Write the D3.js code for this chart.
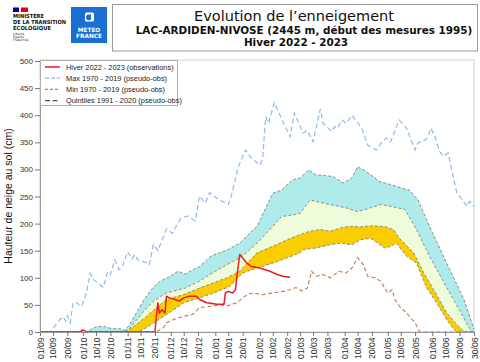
<!DOCTYPE html>
<html>
<head>
<meta charset="utf-8">
<script src="https://cdn.jsdelivr.net/npm/d3@7"></script>
<style>
body { margin: 0; background: #fff; }
svg { font-family: "Liberation Sans", Arial, sans-serif; }
</style>
</head>
<body>
<div id="chart"></div>
<script>
// jours depuis le 01/09/2022, hauteur en cm
var obs2223 = [[0,0],[28,0],[29,3],[31,3],[32,0],[80,0],[81,30],[82,54],[83,35],[85,41],[86,38],[87,35],[88,66],[90,63],[94,60],[97,57],[100,63],[104,66],[109,66],[111,60],[116,54],[123,51],[128,51],[129,72],[131,75],[134,72],[136,78],[137,103],[139,143],[140,140],[144,127],[147,121],[153,118],[160,112],[165,106],[169,103],[174,101]];

var maxSerie = [[0,0],[8,0],[10,10],[14,23],[16,28],[18,20],[19,30],[21,17],[23,54],[26,54],[28,47],[29,49],[32,69],[35,108],[37,97],[40,91],[44,82],[47,111],[49,106],[52,133],[55,115],[57,118],[61,148],[64,135],[66,143],[68,133],[74,128],[76,124],[79,162],[82,150],[88,190],[92,182],[98,210],[103,214],[108,205],[111,251],[115,238],[118,257],[123,247],[131,235],[133,250],[138,305],[143,336],[147,321],[153,308],[155,321],[157,397],[159,385],[163,423],[167,400],[174,360],[177,404],[183,367],[186,372],[190,351],[195,411],[197,385],[203,370],[205,379],[207,376],[210,391],[213,385],[217,400],[224,376],[228,345],[234,336],[238,351],[241,358],[244,351],[250,391],[255,376],[261,336],[263,349],[268,354],[270,360],[272,376],[275,360],[278,333],[281,324],[284,330],[290,257],[293,247],[297,232],[299,241],[302,232]];

var minSerie = [[0,0],[79,0],[82,2],[86,8],[88,17],[93,23],[100,29],[106,32],[111,45],[121,48],[125,51],[130,48],[137,54],[144,69],[148,72],[155,69],[162,72],[169,75],[174,78],[178,82],[182,76],[186,81],[189,112],[192,103],[197,106],[202,100],[208,112],[213,109],[217,118],[221,137],[225,124],[228,103],[233,100],[237,94],[242,72],[245,78],[247,60],[250,48],[255,35],[261,17],[264,1],[265,0],[302,0]];

// quintiles 1991-2020, du haut vers le bas
var quintile1 = [[0,0],[33,0],[36,6],[40,10],[45,10],[50,6],[56,6],[59,3],[62,12],[66,30],[72,58],[78,80],[83,93],[90,102],[96,112],[101,107],[111,121],[119,140],[125,146],[131,152],[139,164],[151,195],[162,256],[168,262],[176,281],[181,284],[187,299],[192,290],[204,287],[211,275],[217,284],[221,305],[227,296],[236,278],[244,272],[252,265],[257,262],[263,244],[271,195],[283,127],[295,60],[302,5]];
var quintile2 = [[0,0],[58,0],[62,5],[66,18],[72,38],[79,57],[88,72],[101,81],[111,94],[120,109],[134,130],[141,140],[151,164],[162,195],[168,213],[176,216],[181,219],[188,244],[192,241],[202,235],[213,229],[221,222],[230,229],[237,235],[244,232],[254,226],[262,189],[271,140],[283,82],[292,40],[297,15],[300,2],[302,0]];
var quintile3 = [[0,0],[60,0],[65,10],[72,24],[79,40],[88,60],[100,69],[111,81],[121,91],[130,100],[139,112],[151,146],[162,158],[172,170],[181,180],[188,186],[195,189],[202,186],[209,192],[216,195],[223,194],[232,196],[241,194],[246,189],[250,173],[260,146],[267,109],[274,78],[283,35],[290,14],[295,1],[302,0]];
var quintile4 = [[0,0],[69,0],[74,8],[79,17],[88,32],[100,54],[111,63],[121,72],[132,84],[141,109],[151,118],[162,127],[172,137],[181,146],[183,152],[192,155],[202,161],[209,164],[217,161],[223,170],[230,173],[235,164],[240,155],[244,158],[248,164],[255,140],[262,127],[269,82],[276,54],[283,23],[288,5],[290,0],[302,0]];

var tickLabels = ["01/09","10/09","20/09","01/10","10/10","20/10","01/11","10/11","20/11","01/12","10/12","20/12","01/01","10/01","20/01","01/02","10/02","20/02","01/03","10/03","20/03","01/04","10/04","20/04","01/05","10/05","20/05","01/06","10/06","20/06","30/06"];
var yTicks = [0,50,100,150,200,250,300,350,400,450,500];

var legendLabels = ["Hiver 2022 - 2023 (observations)","Max 1970 - 2019 (pseudo-obs)","Min 1970 - 2019 (pseudo-obs)","Quintiles 1991 - 2020 (pseudo-obs)"];

var width = 480, height = 362;
var plot = { left: 40, right: 474, top: 60, bottom: 332 };

var start = new Date(2022, 8, 1);
var parseLabel = function (s) {
    var p = s.split("/"), m = +p[1];
    return new Date(m >= 9 ? 2022 : 2023, m - 1, +p[0]);
};
var dayDate = function (d) { return d3.timeDay.offset(start, d); };

var x = d3.scaleTime().domain([start, new Date(2023, 5, 30)]).range([plot.left, plot.right]);
var y = d3.scaleLinear().domain([0, 500]).range([plot.bottom, 61]);

var line = d3.line()
    .x(function (d) { return x(dayDate(d[0])); })
    .y(function (d) { return y(d[1]); });

var svg = d3.select("#chart").append("svg")
    .attr("width", width)
    .attr("height", height);

// logos
var logo = svg.append("g");
logo.append("rect").attr("x", 13).attr("y", 7.5).attr("width", 6).attr("height", 4.5).attr("fill", "#000091");
logo.append("rect").attr("x", 21).attr("y", 7.5).attr("width", 7).attr("height", 4.5).attr("fill", "#e1000f");
[["MINISTÈRE", 17.5, 31], ["DE LA TRANSITION", 24, 53], ["ÉCOLOGIQUE", 30, 38]].forEach(function (t) {
    logo.append("text").attr("x", 13).attr("y", t[1])
        .attr("textLength", t[2]).attr("lengthAdjust", "spacingAndGlyphs")
        .style("font", "bold 5.6px 'DejaVu Sans', sans-serif").attr("fill", "#111")
        .text(t[0]);
});
[["Liberté", 34.5], ["Égalité", 37.8], ["Fraternité", 41.1]].forEach(function (t) {
    logo.append("text").attr("x", 13).attr("y", t[1])
        .style("font", "italic 3.2px 'DejaVu Sans', sans-serif").attr("fill", "#333")
        .text(t[0]);
});
logo.append("rect").attr("x", 71).attr("y", 7).attr("width", 36).attr("height", 36).attr("fill", "#1b6fd2");
logo.append("rect").attr("x", 85).attr("y", 12.5).attr("width", 9).attr("height", 9).attr("rx", 1.5).attr("fill", "#fff");
logo.append("path").attr("d", "M88,14.5 a3,3 0 1,0 3,5 l0,-5 z").attr("fill", "#1b6fd2");
[["METEO", 31.5], ["FRANCE", 37.5]].forEach(function (t) {
    logo.append("text").attr("x", 89).attr("y", t[1]).attr("text-anchor", "middle")
        .style("font", "bold 5.8px 'DejaVu Sans', sans-serif").attr("fill", "#fff")
        .text(t[0]);
});

// titre
svg.append("rect").attr("x", 112.5).attr("y", 4.5).attr("width", 365).attr("height", 46.5)
    .attr("fill", "#fff").attr("stroke", "#9a9a9a");
svg.append("text").attr("x", 294).attr("y", 20.5).attr("text-anchor", "middle")
    .style("font", "14.5px 'DejaVu Sans', sans-serif").attr("fill", "#111")
    .text("Evolution de l’enneigement");
svg.append("text").attr("x", 304).attr("y", 33.5).attr("text-anchor", "middle")
    .style("font", "bold 10.4px 'DejaVu Sans', sans-serif").attr("fill", "#111")
    .text("LAC-ARDIDEN-NIVOSE (2445 m, début des mesures 1995)");
svg.append("text").attr("x", 296).attr("y", 46).attr("text-anchor", "middle")
    .style("font", "bold 10.4px 'DejaVu Sans', sans-serif").attr("fill", "#111")
    .text("Hiver 2022 - 2023");

// cadre
svg.append("rect").attr("x", plot.left).attr("y", plot.top)
    .attr("width", plot.right - plot.left).attr("height", plot.bottom - plot.top)
    .attr("fill", "none").attr("stroke", "#d4d4d4");

// bandes de quintiles
var band = function (top, bottom, color) {
    var pts = top.concat(bottom.slice().reverse());
    svg.append("path").attr("d", line(pts) + "Z").attr("fill", color).attr("stroke", "none");
};
band(quintile1, quintile2, "#aeebea");
band(quintile2, quintile3, "#eefcd9");
band(quintile3, quintile4, "#f9cd00");

[quintile1, quintile2, quintile3, quintile4].forEach(function (q) {
    svg.append("path").datum(q).attr("d", line)
        .attr("fill", "none").attr("stroke", "#808080")
        .attr("stroke-width", 0.9).attr("stroke-dasharray", "3,2");
});

svg.append("path").datum(minSerie).attr("d", line)
    .attr("fill", "none").attr("stroke", "#c57a55")
    .attr("stroke-width", 1.1).attr("stroke-dasharray", "4,2.5");

svg.append("path").datum(maxSerie).attr("d", line)
    .attr("fill", "none").attr("stroke", "#8fb9ef")
    .attr("stroke-width", 1.2).attr("stroke-dasharray", "5,3");

svg.append("path").datum(obs2223).attr("d", line)
    .attr("fill", "none").attr("stroke", "#ec1c24")
    .attr("stroke-width", 1.5).attr("stroke-linejoin", "round");

// axes
var xAxis = svg.append("g")
    .attr("transform", "translate(0," + plot.bottom + ")")
    .call(d3.axisBottom(x)
        .tickValues(tickLabels.map(parseLabel))
        .tickSize(4)
        .tickFormat(d3.timeFormat("%d/%m")));
xAxis.select(".domain").attr("stroke", "#999");
xAxis.selectAll(".tick line").attr("stroke", "#777");
xAxis.selectAll("text")
    .attr("transform", "rotate(-90)")
    .attr("x", -5.5).attr("y", 0).attr("dy", "0.35em")
    .style("text-anchor", "end")
    .style("font-size", "8.6px")
    .attr("fill", "#333");

var yAxis = svg.append("g")
    .attr("transform", "translate(" + plot.left + ",0)")
    .call(d3.axisLeft(y).tickValues(yTicks).tickSize(5).tickPadding(2));
yAxis.select(".domain").attr("stroke", "#999");
yAxis.selectAll(".tick line").attr("stroke", "#777");
yAxis.selectAll("text").style("font-size", "8px").attr("fill", "#333");

svg.append("text")
    .attr("transform", "translate(11.5," + 196 + ") rotate(-90)")
    .attr("text-anchor", "middle")
    .style("font-size", "10.5px")
    .attr("fill", "#111")
    .text("Hauteur de neige au sol (cm)");

// légende
var legendStyles = [
    { color: "#ec1c24", dash: null, w: 1.5 },
    { color: "#8fb9ef", dash: "4,2", w: 1.2 },
    { color: "#d07a50", dash: "3,2", w: 1.1 },
    { color: "#555", dash: "5,2.5", w: 1.1 }
];
var legend = svg.append("g");
legend.append("rect").attr("x", 40.5).attr("y", 60.5).attr("width", 137).attr("height", 45)
    .attr("fill", "#fff").attr("stroke", "#b0b0b0");
legendLabels.forEach(function (label, i) {
    var ly = 67 + i * 11.2;
    legend.append("line").attr("x1", 45).attr("x2", 60).attr("y1", ly).attr("y2", ly)
        .attr("stroke", legendStyles[i].color).attr("stroke-width", legendStyles[i].w)
        .attr("stroke-dasharray", legendStyles[i].dash);
    legend.append("text").attr("x", 66).attr("y", ly).attr("dy", "0.35em")
        .style("font-size", "7.4px").attr("fill", "#222")
        .text(label);
});
</script>
</body>
</html>
